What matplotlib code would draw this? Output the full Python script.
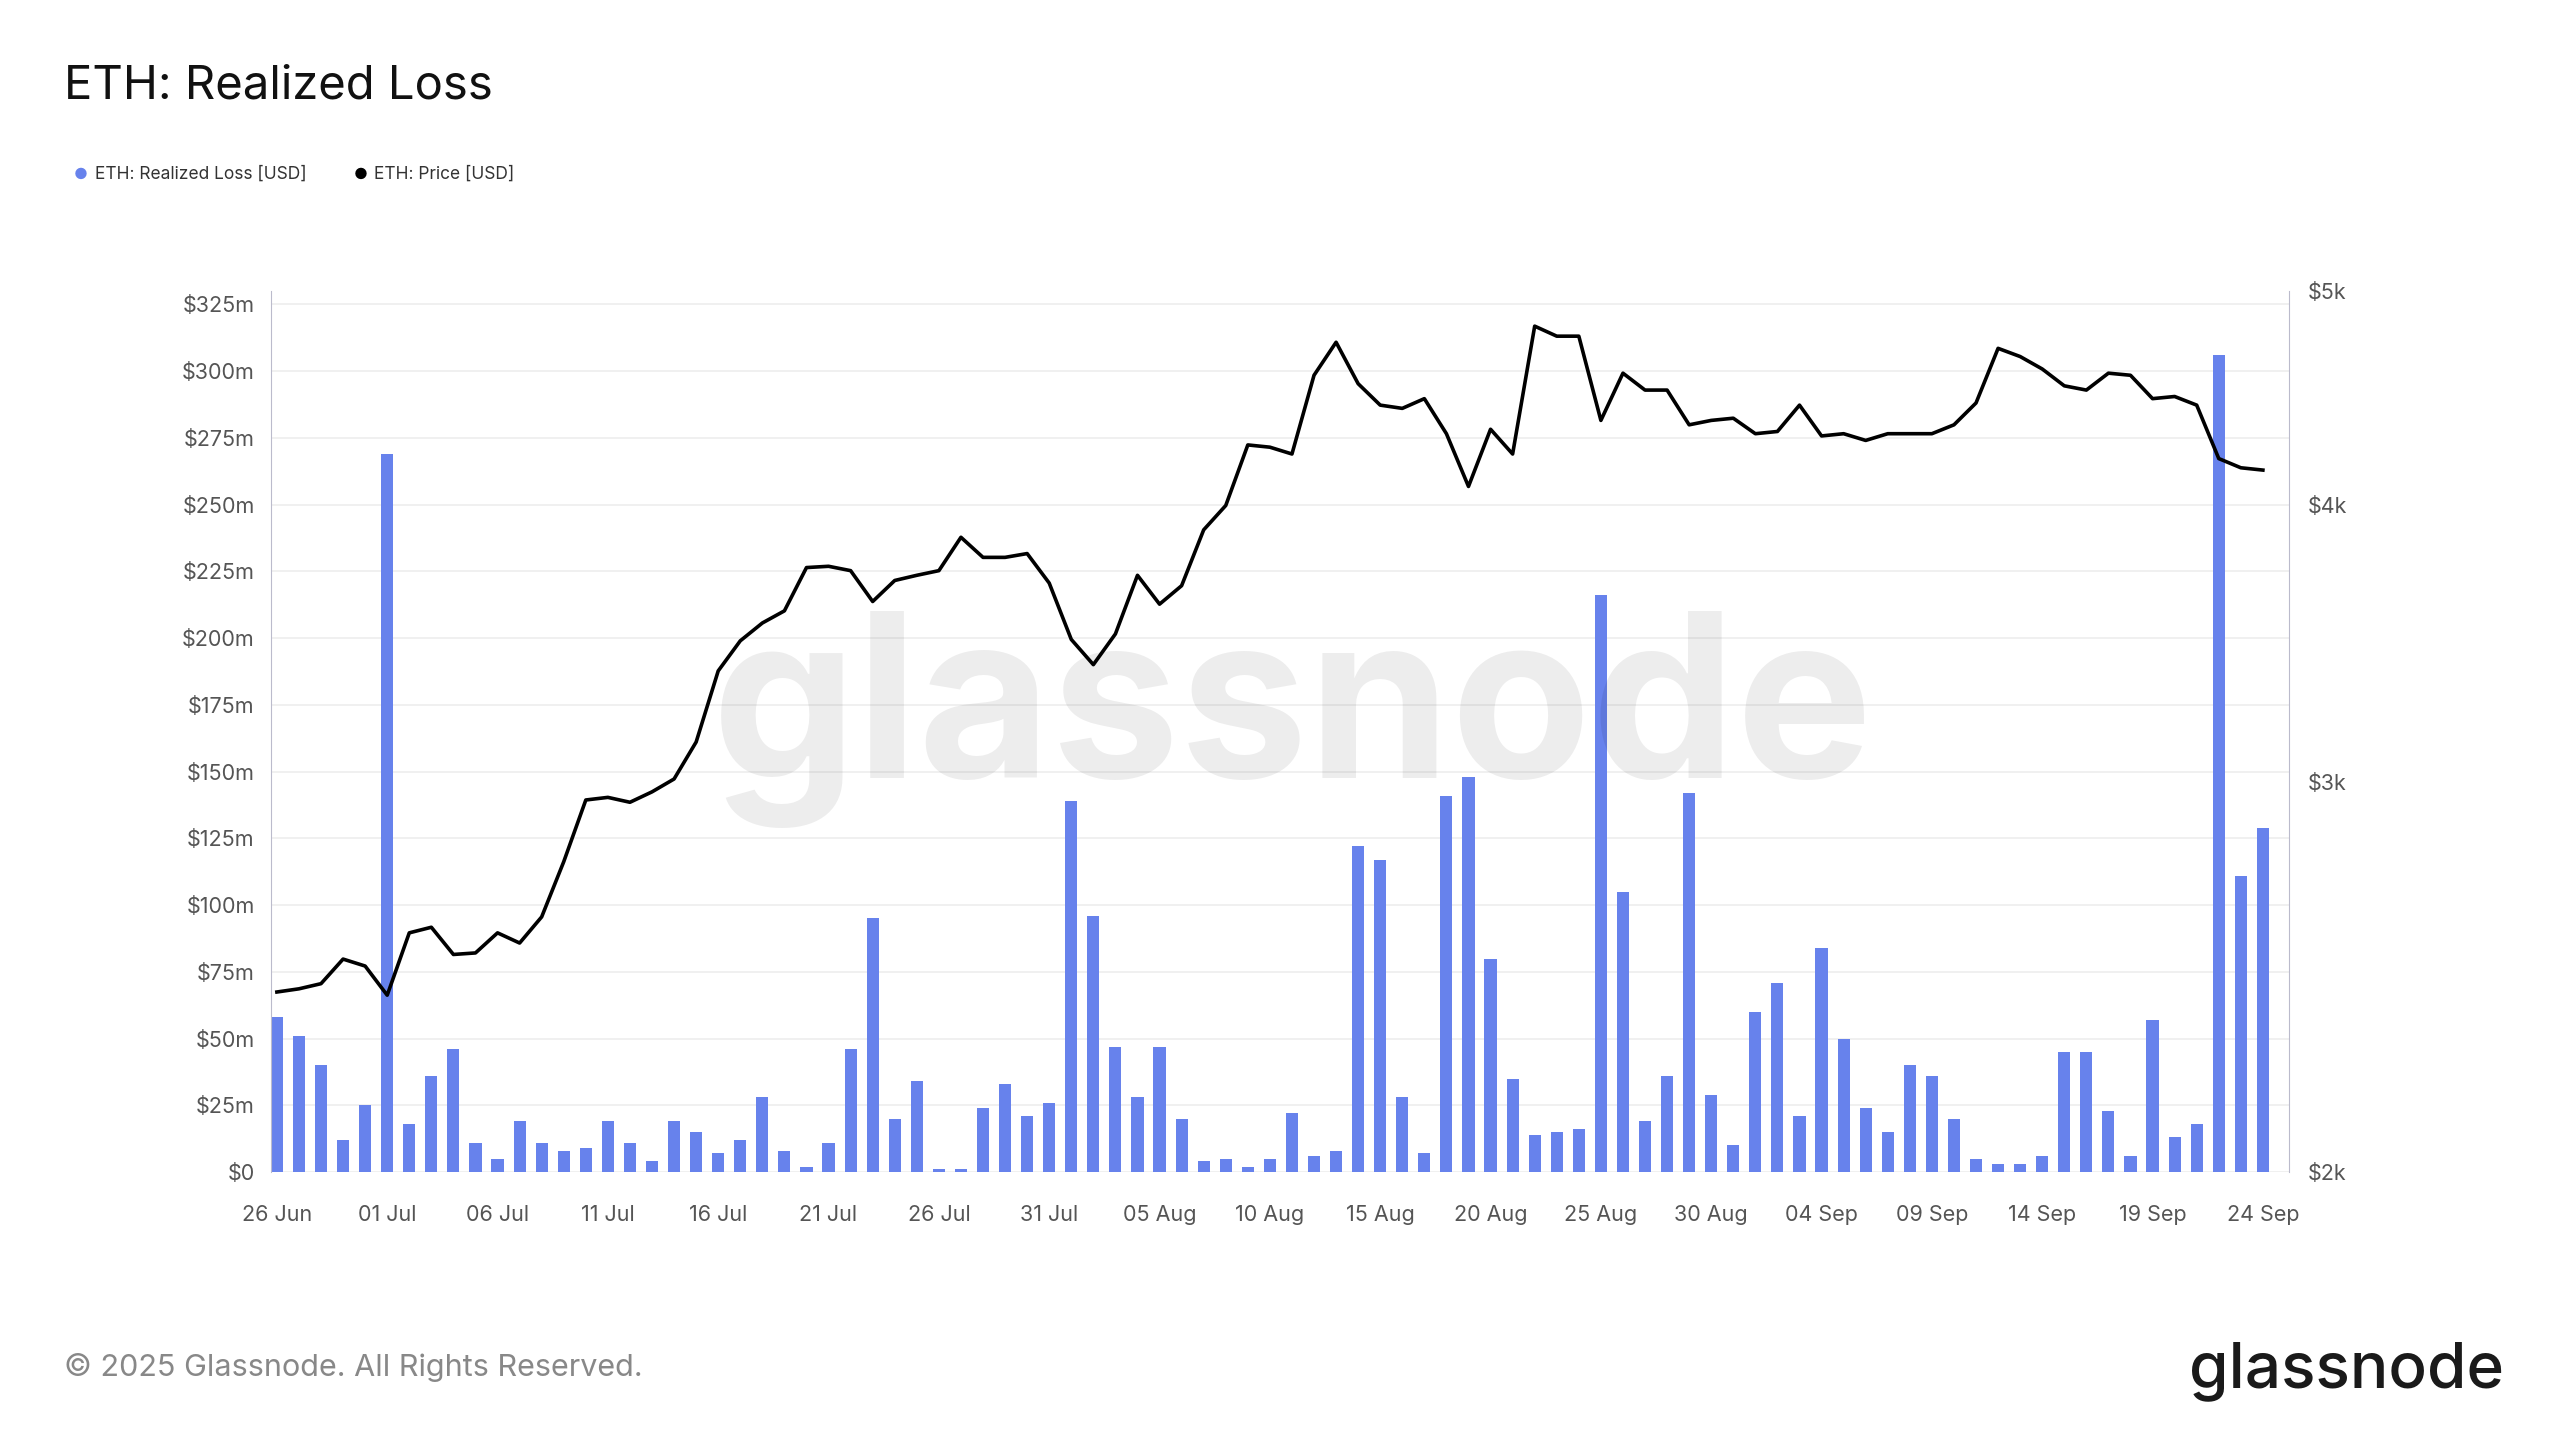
import numpy as np
import pandas as pd
import matplotlib
matplotlib.use("Agg")
import matplotlib.pyplot as plt
import matplotlib.dates as mdates
from matplotlib.ticker import FixedLocator, NullLocator, FuncFormatter

plt.rcParams["font.family"] = ["Inter", "DejaVu Sans"]

dates = pd.date_range("2025-06-26", "2025-09-24", freq="D")

# realized loss, millions USD
loss = [58, 51, 40, 12, 25,
        269, 18, 36, 46, 11, 5, 19, 11, 8, 9, 19, 11, 4, 19, 15, 7, 12, 28, 8, 2, 11,
        46, 95, 20, 34, 1, 1, 24, 33, 21, 26,
        139, 96, 47, 28, 47, 20, 4, 5, 2, 5, 22, 6, 8, 122, 117, 28, 7, 141, 148, 80,
        35, 14, 15, 16, 216, 105, 19, 36, 142, 29, 10,
        60, 71, 21, 84, 50, 24, 15, 40, 36, 20, 5, 3, 3, 6, 45, 45, 23, 6, 57, 13, 18,
        306, 111, 129]

price = [2412, 2420, 2433, 2496, 2478,
         2404, 2565, 2580, 2508, 2512, 2565, 2538, 2608, 2762, 2945, 2953, 2938, 2970,
         3010, 3128, 3368, 3475, 3540, 3585, 3750, 3755, 3738, 3620, 3700, 3720, 3738,
         3870, 3790, 3790, 3805, 3690,
         3480, 3390, 3500, 3720, 3610, 3680, 3900, 4000, 4260, 4250, 4220, 4580, 4740,
         4540, 4440, 4425, 4470, 4310, 4080, 4330, 4220, 4820, 4770, 4770, 4370, 4590,
         4510, 4510, 4350, 4370, 4380,
         4310, 4320, 4440, 4300, 4310, 4280, 4310, 4310, 4310, 4350, 4450, 4710, 4670,
         4610, 4530, 4510, 4590, 4580, 4470, 4480, 4440, 4200, 4160, 4150]

BLUE = "#6782ec"
GRID = "#eeeeee"
TXT = "#555555"

fig = plt.figure(figsize=(25.6, 14.4), dpi=100)
ax = fig.add_axes([0.106, 0.186, 0.788, 0.612])
ax.bar(dates, loss, width=0.55, color=BLUE, zorder=2)
ax.set_ylim(0, 330)
xlim = (dates[0] - pd.Timedelta(hours=6), dates[-1] + pd.Timedelta(hours=28))
ax.set_xlim(xlim)
ax.yaxis.set_major_locator(FixedLocator(np.arange(0, 326, 25)))
ax.yaxis.set_major_formatter(FuncFormatter(lambda v, p: "$0" if v == 0 else f"${v:.0f}m"))
ax.grid(axis="y", color=GRID, lw=1.2, zorder=0)
ax.set_xticks(dates[::5])
ax.xaxis.set_major_formatter(mdates.DateFormatter("%d %b"))
for s in ["top", "right"]:
    ax.spines[s].set_visible(False)
ax.spines["left"].set_color("#bbbbcc")
ax.spines["bottom"].set_visible(False)
ax.tick_params(axis="both", length=0, labelsize=15.5, colors=TXT, pad=12)
ax.tick_params(axis="x", pad=24)

ax2 = ax.twinx()
ax2.plot(dates, price, color="black", lw=2.6, zorder=3)
ax2.set_yscale("log")
ax2.set_ylim(2000, 5000)
ax2.yaxis.set_major_locator(FixedLocator([2000, 3000, 4000, 5000]))
ax2.yaxis.set_minor_locator(NullLocator())
ax2.yaxis.set_major_formatter(FuncFormatter(lambda v, p: f"${v/1000:.0f}k"))
for s in ["top", "left", "bottom"]:
    ax2.spines[s].set_visible(False)
ax2.spines["right"].set_color("#bbbbcc")
ax2.tick_params(axis="y", length=0, labelsize=15.5, colors=TXT, pad=14)
ax2.set_xlim(xlim)

fig.text(0.505, 0.5, "glassnode", fontsize=165, color="#000000", alpha=0.07,
         ha="center", va="center", fontweight="bold")

fig.text(0.025, 0.94, "ETH: Realized Loss", fontsize=34, color="#111111", va="center")
fig.text(0.029, 0.879, "●", fontsize=11, color=BLUE, va="center")
fig.text(0.037, 0.879, "ETH: Realized Loss [USD]", fontsize=12.5, color="#333333", va="center")
fig.text(0.138, 0.879, "●", fontsize=11, color="black", va="center")
fig.text(0.146, 0.879, "ETH: Price [USD]", fontsize=12.5, color="#333333", va="center")
fig.text(0.025, 0.05, "© 2025 Glassnode. All Rights Reserved.", fontsize=22, color="#888888", va="center")
fig.text(0.978, 0.048, "glassnode", fontsize=46, color="#1a1a1a", ha="right", va="center",
         fontweight="medium")

fig.savefig("out.png", dpi=100, facecolor="white")
